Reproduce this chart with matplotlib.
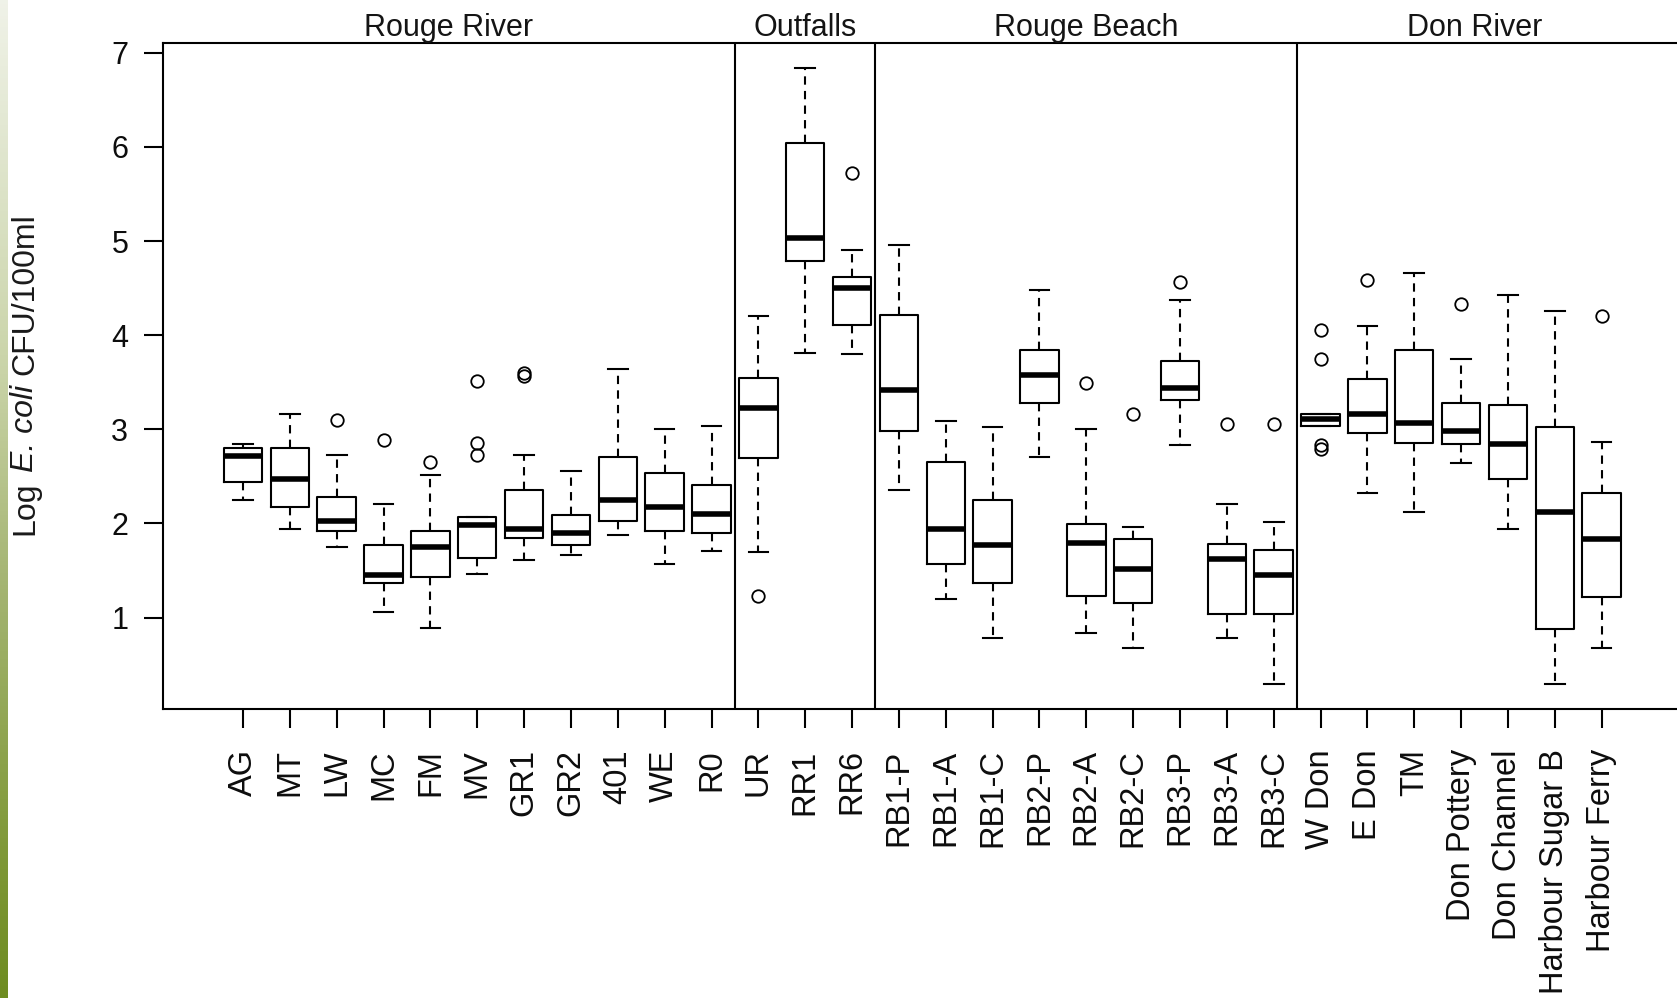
import matplotlib
matplotlib.use('Agg')
import matplotlib.pyplot as plt
import numpy as np
from matplotlib.transforms import blended_transform_factory
from matplotlib.colors import LinearSegmentedColormap

plt.rcParams['font.family'] = ['Liberation Sans', 'DejaVu Sans']

# ---------------- data ----------------
sites = ['AG', 'MT', 'LW', 'MC', 'FM', 'MV', 'GR1', 'GR2', '401', 'WE', 'R0',
         'UR', 'RR1', 'RR6',
         'RB1-P', 'RB1-A', 'RB1-C', 'RB2-P', 'RB2-A', 'RB2-C', 'RB3-P', 'RB3-A', 'RB3-C',
         'W Don', 'E Don', 'TM', 'Don Pottery', 'Don Channel', 'Harbour Sugar B', 'Harbour Ferry']

whislo = [2.25, 1.94, 1.75, 1.06, 0.89, 1.46, 1.61, 1.66, 1.88, 1.57, 1.71,
          1.70, 3.81, 3.80,
          2.36, 1.20, 0.78, 2.71, 0.84, 0.68, 2.83, 0.78, 0.29,
          3.04, 2.32, 2.12, 2.64, 1.94, 0.29, 0.68]
q1 = [2.44, 2.18, 1.92, 1.37, 1.43, 1.63, 1.85, 1.77, 2.03, 1.92, 1.90,
      2.70, 4.79, 4.11,
      2.98, 1.57, 1.37, 3.28, 1.23, 1.15, 3.31, 1.04, 1.04,
      3.04, 2.96, 2.85, 2.84, 2.47, 0.88, 1.22]
med = [2.72, 2.47, 2.03, 1.45, 1.75, 1.98, 1.94, 1.90, 2.25, 2.17, 2.10,
       3.23, 5.03, 4.50,
       3.42, 1.94, 1.77, 3.58, 1.79, 1.52, 3.44, 1.62, 1.45,
       3.11, 3.16, 3.07, 2.98, 2.84, 2.12, 1.83]
q3 = [2.80, 2.80, 2.28, 1.77, 1.92, 2.07, 2.36, 2.09, 2.71, 2.54, 2.41,
      3.55, 6.04, 4.62,
      4.21, 2.65, 2.25, 3.84, 1.99, 1.83, 3.73, 1.78, 1.72,
      3.16, 3.53, 3.84, 3.28, 3.26, 3.02, 2.32]
whishi = [2.84, 3.16, 2.73, 2.21, 2.52, 2.07, 2.73, 2.56, 3.64, 3.00, 3.04,
          4.20, 6.84, 4.90,
          4.96, 3.09, 3.02, 4.48, 3.00, 1.96, 4.37, 2.21, 2.02,
          3.16, 4.10, 4.66, 3.75, 4.43, 4.26, 2.86]
outliers = [[], [], [3.10], [2.89], [2.65], [3.51, 2.85, 2.73], [3.60, 3.57], [], [], [], [],
            [1.23], [], [5.72],
            [], [], [], [], [3.49], [3.16], [4.57], [3.06], [3.06],
            [4.06, 3.75, 2.83, 2.79], [4.59], [], [4.33], [], [], [4.20]]

groups = ['Rouge River', 'Outfalls', 'Rouge Beach', 'Don River']
group_sizes = [11, 3, 9, 7]

yticks = [1, 2, 3, 4, 5, 6, 7]
ylabel_parts = [('Log', 'normal'), ('E. coli', 'italic'), ('CFU/100ml', 'normal')]

# ---------------- figure ----------------
W, H = 1677, 998
fig = plt.figure(figsize=(W / 100, H / 100), dpi=100)

# green gradient strip at the left edge
strip = fig.add_axes([0, 0, 8 / W, 1])
cmap = LinearSegmentedColormap.from_list('strip', [
    (0.00, (0.94, 0.95, 0.91)),
    (0.37, (0.79, 0.83, 0.66)),
    (0.56, (0.66, 0.72, 0.47)),
    (0.85, (0.50, 0.60, 0.22)),
    (1.00, (0.43, 0.55, 0.13))])
strip.imshow(np.linspace(0, 1, 256).reshape(-1, 1), aspect='auto', cmap=cmap,
             extent=[0, 1, 1, 0])
strip.axis('off')

ax_left, ax_top, ax_bottom = 163, 42.7, 709
ax = fig.add_axes([ax_left / W, 1 - ax_bottom / H, 1 - ax_left / W, (ax_bottom - ax_top) / H])

positions = np.arange(1, len(sites) + 1)
stats = []
for i, s in enumerate(sites):
    stats.append(dict(label=s, med=med[i], q1=q1[i], q3=q3[i],
                      whislo=whislo[i], whishi=whishi[i], fliers=outliers[i]))

lw = 1.5
ax.bxp(stats, positions=positions, widths=0.82, capwidths=0.42,
       showfliers=True, patch_artist=False,
       boxprops=dict(color='black', linewidth=lw),
       medianprops=dict(color='black', linewidth=4.0, solid_capstyle='butt'),
       whiskerprops=dict(color='black', linewidth=lw, linestyle=(0, (4, 3))),
       capprops=dict(color='black', linewidth=lw),
       flierprops=dict(marker='o', markerfacecolor='none', markeredgecolor='black',
                       markersize=9, markeredgewidth=1.3, linestyle='none'))

x_left = 1 - (243 - ax_left) / 46.85
x_right = 1 + (W - 243) / 46.85
ax.set_xlim(x_left, x_right)
ax.set_ylim(0.029, 7.107)

# group separators and titles
bounds = np.cumsum(group_sizes) + 0.5
for b in bounds[:-1]:
    ax.axvline(b, color='black', linewidth=lw)
frame_right = 31.1
lefts = [x_left] + list(bounds[:-1])
rights = list(bounds[:-1]) + [frame_right]
trans = blended_transform_factory(ax.transData, ax.transAxes)
for g, l, r in zip(groups, lefts, rights):
    ax.text((l + r) / 2, 1.01, g, transform=trans, ha='center', va='baseline',
            fontsize=22, color='#141414')

ax.set_xticks(positions)
ax.set_xticklabels(sites, rotation=90, fontsize=23.5, color='#0d0d0d')
ax.set_yticks(yticks)
ax.set_yticklabels([str(t) for t in yticks], fontsize=22, color='#0d0d0d')
ax.tick_params(axis='x', length=14, width=lw, pad=15)
ax.tick_params(axis='y', length=14, width=lw, pad=11)

for side in ['left', 'top', 'bottom']:
    ax.spines[side].set_linewidth(lw)
ax.spines['right'].set_visible(False)

# y label built from pieces (italic species name)
fs_lab = 23
renderer = fig.canvas.get_renderer()
def text_width(s, style):
    t = fig.text(0, 0, s, fontsize=fs_lab, fontstyle=style)
    w = t.get_window_extent(renderer).width
    t.remove()
    return w
widths = [text_width(s, st) for s, st in ylabel_parts]
space = 0.30 * fs_lab * 100 / 72
total = sum(widths) + space * (len(widths) - 1)
y_px = (H - 374) - total / 2  # from bottom, pixels
x_px = 25
for (s, st), w in zip(ylabel_parts, widths):
    fig.text(x_px / W, y_px / H, s, rotation=90, ha='center', va='bottom',
             fontsize=fs_lab, fontstyle=st, color='#1a1a1a')
    y_px += w + space

fig.savefig('out.png', dpi=100)
